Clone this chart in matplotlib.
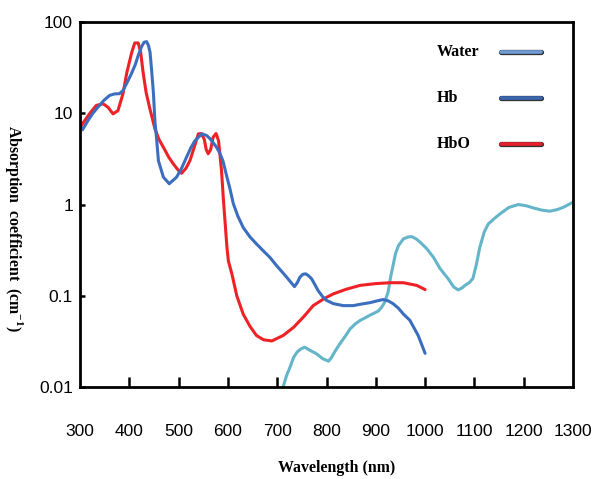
import matplotlib
matplotlib.use("Agg")
import matplotlib.pyplot as plt
import matplotlib.patheffects as pe
from matplotlib.ticker import NullLocator

plt.rcParams["mathtext.fontset"] = "custom"
plt.rcParams["mathtext.rm"] = "Liberation Serif:bold"
plt.rcParams["mathtext.bf"] = "Liberation Serif:bold"

# values (wavelength in nm, absorption in cm^-1)
hbo_nm = [300, 310, 320, 333, 347, 357, 367, 377, 387, 395, 405, 411, 418, 423, 428,
          434, 441, 452, 460, 469, 480, 489, 500, 506, 515, 523, 532, 540, 546, 552,
          556, 560, 565, 570, 576, 581, 587, 591, 594, 598, 601, 608, 618, 631, 645,
          658, 672, 689, 712, 733, 755, 773, 795, 814, 840, 868, 900, 929, 956, 983, 1000]
hbo_abs = [7.0, 8.4, 10.0, 12.2, 12.7, 11.6, 9.85, 10.7, 16.3, 28, 46.7, 59, 59, 46.7, 28,
           17, 11.6, 6.75, 5.2, 4.25, 3.3, 2.8, 2.35, 2.2, 2.5, 3.03, 4.3, 5.95, 6.0, 5.2,
           4.0, 3.6, 4.0, 5.47, 6.0, 5.0, 2.36, 1.1, 0.67, 0.34, 0.24, 0.174, 0.1, 0.063, 0.046,
           0.0367, 0.033, 0.032, 0.0367, 0.045, 0.06, 0.078, 0.093, 0.105, 0.118, 0.13, 0.136, 0.139, 0.139, 0.13, 0.117]

hb_nm = [300, 305, 316, 326, 336, 348, 360, 370, 380, 387, 396, 404, 412, 418, 425,
         430, 435, 439, 442, 445, 449, 452, 455, 459, 469, 481, 496, 506, 516, 525,
         533, 547, 557, 564, 577, 584, 590, 598, 604, 611, 620, 631, 645, 658, 672,
         685, 700, 715, 735, 741, 746, 752, 758, 764, 770, 783, 792, 800, 814, 834,
         854, 870, 888, 903, 915, 925, 935, 946, 956, 969, 986, 1000]
hb_abs = [7.2, 6.6, 8.3, 10.0, 11.6, 13.8, 15.7, 16.3, 16.4, 17.7, 22, 27, 34, 43, 54,
          60, 61, 55, 46.7, 30.7, 16.3, 8.0, 5.5, 3.03, 2.0, 1.69, 2.0, 2.5, 3.3, 4.2,
          5.0, 5.95, 5.7, 5.25, 4.25, 3.6, 3.0, 2.0, 1.5, 1.02, 0.75, 0.56, 0.44, 0.37, 0.31,
          0.264, 0.21, 0.17, 0.126, 0.14, 0.16, 0.172, 0.174, 0.165, 0.153, 0.114, 0.098, 0.089, 0.082, 0.078,
          0.078, 0.081, 0.084, 0.088, 0.091, 0.088, 0.082, 0.073, 0.063, 0.054, 0.0367, 0.0234]

water_nm = [712, 719, 726, 733, 740, 748, 756, 768, 780, 792, 804, 810, 817, 827, 838,
            848, 858, 868, 890, 905, 912, 918, 925, 930, 935, 940, 946, 956, 965, 973,
            982, 990, 1003, 1017, 1030, 1047, 1058, 1067, 1075, 1081, 1090, 1097, 1104, 1111, 1120,
            1128, 1140, 1152, 1170, 1189, 1205, 1219, 1236, 1253, 1268, 1280, 1300]
water_abs = [0.01, 0.0134, 0.0165, 0.021, 0.024, 0.0262, 0.0273, 0.025, 0.0231, 0.0205, 0.0192, 0.021, 0.0245, 0.0297, 0.036,
             0.0434, 0.049, 0.0536, 0.062, 0.068, 0.075, 0.085, 0.11, 0.16, 0.215, 0.29, 0.355, 0.42, 0.44, 0.445,
             0.42, 0.386, 0.33, 0.264, 0.2, 0.153, 0.125, 0.116, 0.122, 0.13, 0.14, 0.155, 0.22, 0.34, 0.5,
             0.61, 0.7, 0.79, 0.93, 1.0, 0.97, 0.92, 0.87, 0.845, 0.88, 0.93, 1.06]

x_ticks = [300, 400, 500, 600, 700, 800, 900, 1000, 1100, 1200, 1300]
y_ticks = [0.01, 0.1, 1, 10, 100]
y_tick_labels = ["0.01", "0.1", "1", "10", "100"]

legend_labels = ["Water", "Hb", "HbO"]
legend_colors = ["#6F9CD6", "#3A66B0", "#E8202A"]

fig = plt.figure(figsize=(5.95, 4.79), dpi=100)
ax = fig.add_axes([0.1345, 0.192, 0.8285, 0.762])

line_kw = dict(lw=2.2, solid_joinstyle="round", solid_capstyle="round")
ax.plot(water_nm, water_abs, color="#64B5C9", **line_kw)
ax.plot(hbo_nm, hbo_abs, color="#EE2226", **line_kw)
ax.plot(hb_nm, hb_abs, color="#3C6EBF", **line_kw)

ax.set_yscale("log")
ax.set_xlim(300, 1300)
ax.set_ylim(0.01, 100)
ax.set_xticks(x_ticks[1:-1])
ax.set_xticklabels([])
ax.set_yticks(y_ticks)
ax.set_yticklabels(y_tick_labels)
ax.yaxis.set_minor_locator(NullLocator())

for sp in ax.spines.values():
    sp.set_linewidth(2.0)

ax.tick_params(axis="x", direction="in", length=7, width=1.8)
ax.tick_params(axis="y", direction="in", length=3.6, width=1.8, pad=5,
               labelsize=12.5)
for lbl in ax.get_yticklabels():
    lbl.set_family("Liberation Sans")

# x labels sit well below the axis, including both ends
for v in x_ticks:
    ax.annotate(str(v), xy=(v, 0), xycoords=("data", "axes fraction"),
                xytext=(0, -32), textcoords="offset points",
                ha="center", va="center", fontsize=12.5, family="Liberation Sans")

fig.text(0.565, 1 - 468 / 479, "Wavelength (nm)", ha="center", va="center",
         fontsize=11.4, family="Liberation Serif", weight="bold")
fig.text(14 / 595, 1 - 228 / 479, r"Absorption  coefficient  (cm$^{\mathbf{-1}}$)",
         rotation=270, ha="center", va="center",
         fontsize=11.4, family="Liberation Serif", weight="bold")

# legend: text on the left, outlined line sample on the right
for i, (lab, col) in enumerate(zip(legend_labels, legend_colors)):
    yy = 0.918 - i * 0.126
    ax.text(0.724, yy, lab, transform=ax.transAxes, ha="left", va="center",
            fontsize=11.5, family="Liberation Serif", weight="bold")
    ax.plot([0.854, 0.935], [yy, yy], transform=ax.transAxes, color=col, lw=2.6,
            solid_capstyle="round", clip_on=False,
            path_effects=[pe.Stroke(linewidth=3.8, foreground="#333333"), pe.Normal()])

fig.savefig("out.png", dpi=100)
